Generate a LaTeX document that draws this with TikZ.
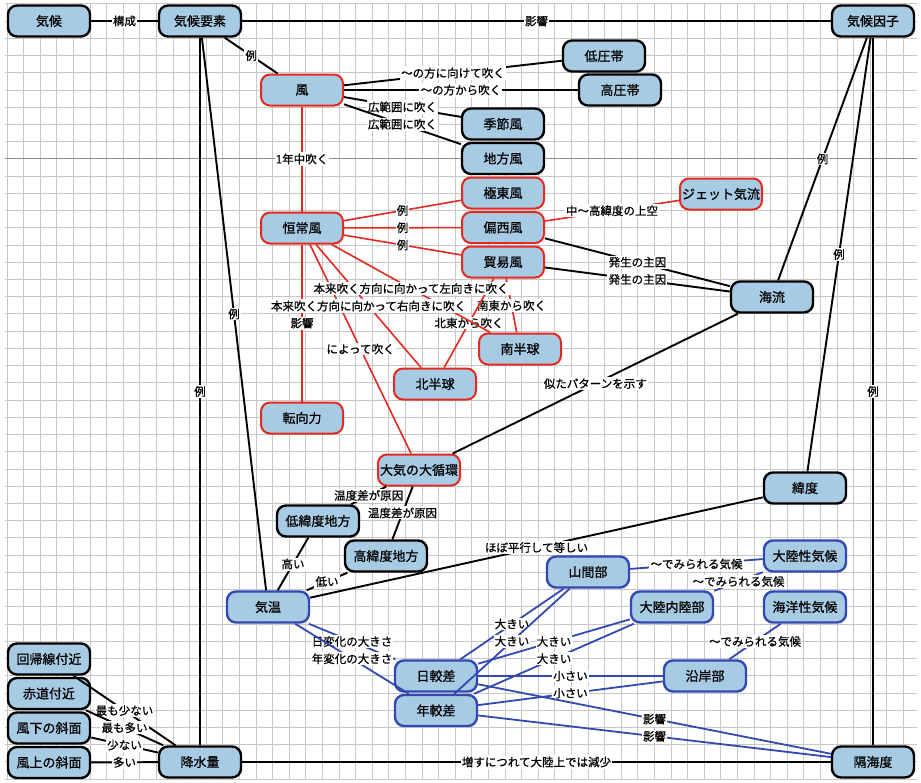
\documentclass[tikz,border=0pt]{standalone}
\usepackage{fontspec}
\usepackage{xcolor}
\setmainfont{Noto Sans CJK JP}[FakeBold=0.8]
\definecolor{boxfill}{RGB}{168,203,228}
\definecolor{redline}{RGB}{228,42,32}
\definecolor{blueline}{RGB}{52,72,178}

\begin{document}
\begin{tikzpicture}[x=1pt, y=-1pt, node distance=34.5pt,
    kbox/.style={rectangle, rounded corners=9pt, draw=black, line width=2.4pt, fill=boxfill,
                 minimum width=82pt, minimum height=31pt, inner sep=0pt, font=\fontsize{13}{15}\selectfont},
    rbox/.style={kbox, draw=redline, line width=2pt},
    bbox/.style={kbox, draw=blueline, line width=2.4pt},
    lbl/.style={fill=white, inner sep=1.2pt, text=black, font=\fontsize{11.5}{13}\selectfont},
    kline/.style={draw=black, line width=1.9pt},
    rline/.style={draw=redline, line width=1.6pt},
    bline/.style={draw=blueline, line width=1.8pt},
    gridline/.style={black!22, line width=0.9pt}]

    \useasboundingbox (0,0) rectangle (921,782);
    \fill[white] (0,0) rectangle (921,782);
    \foreach \gx in {0,...,54} {\draw[gridline] ({7+16.6*\gx},3) -- ({7+16.6*\gx},779);}
    \foreach \gy in {0,...,45} {\draw[gridline] (5,{3.8+17.23*\gy}) -- (917,{3.8+17.23*\gy});}
    \draw[black!45, line width=1.2pt] (5,158.7) -- (917,158.7);

    \node (kikou) [kbox] at (49,21) {気候};
    \node (youso) [kbox] at (200,21) {気候要素};
    \node (inshi) [kbox] at (873,21) {気候因子};
    \node (kaze) [rbox] at (302,90) {風};
    \node (teiatsu) [kbox] at (604,56) {低圧帯};
    \node (kouatsu) [kbox] at (620,90) {高圧帯};
    \node (kisetsu) [kbox] at (503,124) {季節風};
    \node (chihou) [kbox, below of=kisetsu] {地方風};
    \node (kyokutou) [rbox, below of=chihou] {極東風};
    \node (henseifuu) [rbox, below of=kyokutou] {偏西風};
    \node (boueki) [rbox, below of=henseifuu] {貿易風};
    \node (kousou) [rbox] at (302,228) {恒常風};
    \node (jet) [rbox] at (721,194) {ジェット気流};
    \node (kairyuu) [kbox] at (772,297) {海流};
    \node (minami) [rbox] at (520,349) {南半球};
    \node (kita) [rbox] at (435,384) {北半球};
    \node (tenkou) [rbox] at (302,418) {転向力};
    \node (junkan) [rbox] at (419,470) {大気の大循環};
    \node (ido) [kbox] at (805,488) {緯度};
    \node (teiido) [kbox] at (318,521) {低緯度地方};
    \node (kouido) [kbox] at (386,556) {高緯度地方};
    \node (kion) [bbox] at (268,607) {気温};
    \node (sankan) [bbox] at (588,572) {山間部};
    \node (tairiku) [bbox] at (805,556) {大陸性気候};
    \node (kaiyou) [bbox] at (805,607) {海洋性気候};
    \node (nairiku) [bbox] at (672,607) {大陸内陸部};
    \node (engan) [bbox] at (705,676) {沿岸部};
    \node (nikkaku) [bbox] at (436,676) {日較差};
    \node (nenkaku) [bbox, below of=nikkaku] {年較差};
    \node (kakai) [kbox] at (873,762) {隔海度};
    \node (kousui) [kbox] at (200,762) {降水量};
    \node (kaiki) [kbox] at (49,659) {回帰線付近};
    \node (sekidou) [kbox, below of=kaiki] {赤道付近};
    \node (kazashimo) [kbox, below of=sekidou] {風下の斜面};
    \node (kazakami) [kbox, below of=kazashimo] {風上の斜面};

    \draw[kline] (kikou) -- node[lbl] {構成} (youso);
    \draw[kline] (youso) -- node[lbl] {影響} (inshi);
    \draw[kline] (youso) -- node[lbl] {例} (kaze);
    \draw[kline] (youso) -- node[lbl] {例} (kion);
    \draw[kline] (youso) -- node[lbl] {例} (kousui);
    \draw[kline] (inshi) -- node[lbl] {例} (kairyuu);
    \draw[kline] (inshi) -- node[lbl] {例} (ido);
    \draw[kline] (inshi) -- node[lbl] {例} (kakai);
    \draw[kline] (kousui) -- node[lbl] {増すにつれて大陸上では減少} (kakai);
    \draw[kline] (kaze) -- node[lbl] {～の方に向けて吹く} (teiatsu);
    \draw[kline] (kaze) -- node[lbl] {～の方から吹く} (kouatsu);
    \draw[kline] (kaze) -- node[lbl] {広範囲に吹く} (kisetsu);
    \draw[kline] (kaze) -- node[lbl] {広範囲に吹く} (chihou);
    \draw[kline] (henseifuu) -- node[lbl] {発生の主因} (kairyuu);
    \draw[kline] (boueki) -- node[lbl] {発生の主因} (kairyuu);
    \draw[kline] (junkan) -- node[lbl] {似たパターンを示す} (kairyuu);
    \draw[kline] (junkan) -- node[lbl] {温度差が原因} (teiido);
    \draw[kline] (junkan) -- node[lbl] {温度差が原因} (kouido);
    \draw[kline] (teiido) -- node[lbl] {高い} (kion);
    \draw[kline] (kouido) -- node[lbl] {低い} (kion);
    \draw[kline] (kion) -- node[lbl] {ほぼ平行して等しい} (ido);
    \draw[kline] (kaiki) -- node[lbl] {最も少ない} (kousui);
    \draw[kline] (sekidou) -- node[lbl] {最も多い} (kousui);
    \draw[kline] (kazashimo) -- node[lbl] {少ない} (kousui);
    \draw[kline] (kazakami) -- node[lbl] {多い} (kousui);

    \draw[rline] (kaze) -- node[lbl] {1年中吹く} (kousou);
    \draw[rline] (kousou) -- node[lbl] {例} (kyokutou);
    \draw[rline] (kousou) -- node[lbl] {例} (henseifuu);
    \draw[rline] (kousou) -- node[lbl] {例} (boueki);
    \draw[rline] (henseifuu) -- node[lbl] {中～高緯度の上空} (jet);
    \draw[rline] (kousou) -- node[lbl] {影響} (tenkou);
    \draw[rline] (kousou) -- node[lbl] {によって吹く} (junkan);
    \draw[rline] (boueki) -- node[lbl] {南東から吹く} (minami);
    \draw[rline] (boueki) -- node[lbl] {北東から吹く} (kita);
    \draw[rline] (kousou) -- (minami);
    \draw[rline] (kousou) -- node[lbl] {本来吹く方向に向かって右向きに吹く} (kita);
    \path (kousou) -- node[lbl] {本来吹く方向に向かって左向きに吹く} (minami);

    \draw[bline] (kion) -- node[lbl] {日変化の大きさ} (nikkaku);
    \draw[bline] (kion) -- node[lbl] {年変化の大きさ} (nenkaku);
    \draw[bline] (sankan) -- node[lbl] {大きい} (nikkaku);
    \draw[bline] (sankan) -- node[lbl] {大きい} (nenkaku);
    \draw[bline] (nairiku) -- node[lbl] {大きい} (nikkaku);
    \draw[bline] (nairiku) -- node[lbl] {大きい} (nenkaku);
    \draw[bline] (engan) -- node[lbl] {小さい} (nikkaku);
    \draw[bline] (engan) -- node[lbl] {小さい} (nenkaku);
    \draw[bline] (kakai) -- node[lbl] {影響} (nikkaku);
    \draw[bline] (kakai) -- node[lbl] {影響} (nenkaku);
    \draw[bline] (sankan) -- node[lbl] {～でみられる気候} (tairiku);
    \draw[bline] (nairiku) -- node[lbl] {～でみられる気候} (tairiku);
    \draw[bline] (engan) -- node[lbl] {～でみられる気候} (kaiyou);

\end{tikzpicture}
\end{document}
